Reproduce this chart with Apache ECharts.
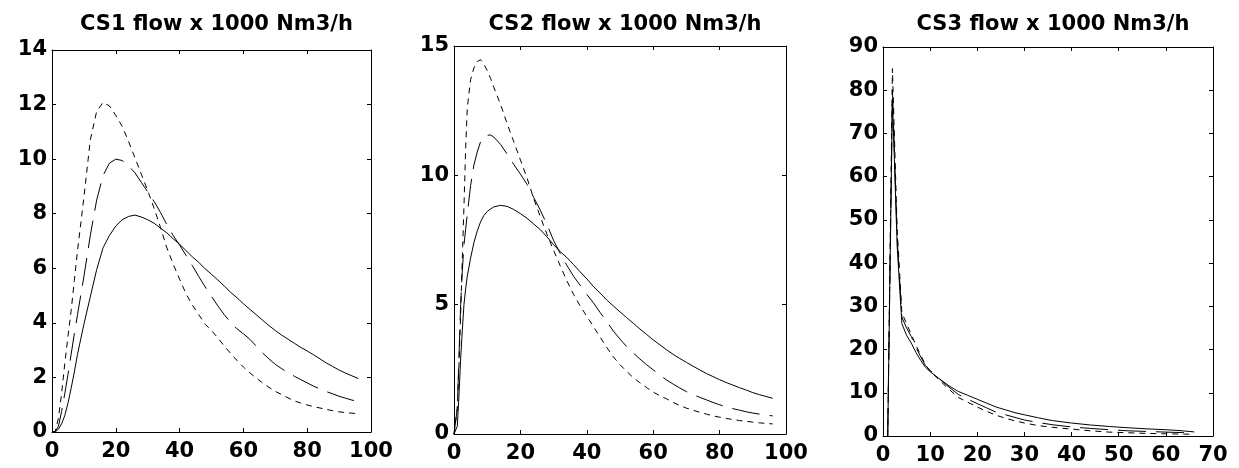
<!DOCTYPE html>
<html>
<head>
<meta charset="utf-8">
<script src="https://cdn.jsdelivr.net/npm/echarts@6/dist/echarts.min.js"></script>
<style>
  html, body { margin: 0; padding: 0; background: #fff; }
  #chart { width: 1239px; height: 468px; }
</style>
</head>
<body>
<div id="chart"></div>
<script>
// Panel titles
const titles = ['CS1 flow x 1000 Nm3/h', 'CS2 flow x 1000 Nm3/h', 'CS3 flow x 1000 Nm3/h'];

// ---- CS1 ----
const cs1Time = [0,1,2,3,4,5,6,7,8,10,12,14,16,18,20,22,24,26,28,30,32,34,36,38,40,42,44,46,48,50,52,54,56,58,60,62,64,66,68,70,72,74,76,78,80,82,84,86,88,90,92,94,96];
const cs1Solid = [0,0,0.1,0.3,0.6,1.05,1.6,2.2,2.85,3.95,4.95,5.95,6.75,7.2,7.55,7.78,7.9,7.95,7.88,7.78,7.65,7.47,7.3,7.08,6.88,6.65,6.42,6.22,5.98,5.78,5.57,5.35,5.12,4.92,4.7,4.5,4.3,4.1,3.9,3.72,3.55,3.4,3.25,3.1,2.97,2.83,2.68,2.53,2.4,2.27,2.16,2.06,1.96];
const cs1LongDash = [0,0.02,0.2,0.75,1.4,2.1,2.85,3.6,4.3,5.7,7.2,8.5,9.4,9.85,10.0,9.95,9.75,9.5,9.15,8.8,8.45,8.05,7.6,7.2,6.85,6.48,6.1,5.7,5.32,4.97,4.62,4.3,4.02,3.78,3.6,3.4,3.15,2.9,2.68,2.48,2.32,2.18,2.04,1.92,1.8,1.68,1.58,1.48,1.4,1.31,1.24,1.17,1.12];
const cs1ShortDash = [0,0.02,0.5,1.4,2.5,3.5,4.45,5.55,6.65,8.6,10.7,11.75,12.08,11.95,11.6,11.2,10.65,10.05,9.45,8.85,8.2,7.5,6.75,6.15,5.6,5.07,4.65,4.3,3.95,3.72,3.45,3.15,2.88,2.62,2.38,2.17,1.98,1.8,1.64,1.49,1.37,1.25,1.14,1.06,0.99,0.93,0.88,0.83,0.78,0.74,0.71,0.69,0.67];

// ---- CS2 ----
const cs2Time = [0,0.5,1,1.5,2,2.5,3,3.5,4,5,6,7,8,9,10,11,12,14,16,18,20,22,24,26,28,30,32,34,36,38,40,42,44,46,48,50,52,54,56,58,60,62,64,66,68,70,72,74,76,78,80,82,84,86,88,90,92,94,96];
const cs2Solid = [0,0,0.3,1.5,2.9,4.0,5.0,5.6,6.1,6.8,7.4,7.85,8.2,8.45,8.6,8.7,8.78,8.84,8.8,8.68,8.52,8.34,8.12,7.9,7.62,7.32,7.05,6.82,6.55,6.27,6.0,5.7,5.45,5.18,4.95,4.72,4.5,4.28,4.06,3.85,3.64,3.45,3.26,3.08,2.92,2.77,2.62,2.48,2.34,2.22,2.1,1.99,1.89,1.79,1.7,1.6,1.52,1.45,1.38];
const cs2LongDash = [0,0,1.0,3.0,5.0,6.3,7.3,7.9,8.5,9.6,10.4,10.9,11.3,11.45,11.55,11.56,11.48,11.2,10.82,10.42,10.05,9.65,9.15,8.65,8.1,7.48,6.98,6.52,6.1,5.75,5.4,5.07,4.7,4.35,3.98,3.67,3.38,3.13,2.9,2.68,2.48,2.28,2.09,1.93,1.78,1.64,1.52,1.42,1.32,1.22,1.13,1.05,0.98,0.92,0.86,0.81,0.77,0.73,0.70];
const cs2ShortDash = [0,0,1.0,2.7,4.6,6.8,8.8,11.0,12.6,13.7,14.15,14.4,14.47,14.3,14.05,13.75,13.4,12.75,12.0,11.3,10.6,9.9,9.1,8.4,7.72,7.1,6.5,5.92,5.4,4.95,4.55,4.15,3.75,3.35,2.98,2.68,2.42,2.18,1.98,1.8,1.62,1.48,1.36,1.22,1.1,1.0,0.92,0.84,0.77,0.7,0.65,0.6,0.56,0.52,0.49,0.46,0.43,0.41,0.39];

// ---- CS3 ----
const cs3Time = [1,2,3,4,5,6,7,8,9,10,12,14,16,18,20,22,24,26,28,30,33,36,40,44,48,52,56,60,63,66];
const cs3Solid = [0,78,44,26,23.3,21.5,19.3,17.5,15.9,14.9,13.2,11.6,10.3,9.4,8.5,7.6,6.7,6.05,5.4,4.9,4.2,3.55,3.0,2.55,2.2,1.9,1.65,1.45,1.25,0.95];
const cs3LongDash = [0,80,46,27.5,25,23,20.5,18.3,16.3,15.2,13.2,11.3,9.6,8.5,7.5,6.5,5.5,4.9,4.3,3.7,3.1,2.6,2.1,1.75,1.45,1.2,1.05,0.9,0.8,0.7];
const cs3ShortDash = [0,85,48,28.5,26,23.5,21,18.7,16.5,15.0,12.9,10.8,8.9,7.8,6.7,5.7,4.8,4.1,3.5,3.0,2.4,2.0,1.6,1.2,0.9,0.75,0.6,0.5,0.45,0.4];

// Axis ranges per panel
const xMax = [100, 100, 70];
const xStep = [20, 20, 10];
const yMax = [14, 15, 90];
const yStep = [2, 5, 10];

// Plot rectangles (pixels)
const grids = [
  { left: 52,  top: 50, width: 319, height: 382 },
  { left: 454, top: 46, width: 332, height: 388 },
  { left: 883, top: 47, width: 330, height: 389 }
];

const FONT = 'DejaVu Sans';
const ink = '#000';

const panels = [
  { t: cs1Time, ys: [cs1Solid, cs1LongDash, cs1ShortDash] },
  { t: cs2Time, ys: [cs2Solid, cs2LongDash, cs2ShortDash] },
  { t: cs3Time, ys: [cs3Solid, cs3LongDash, cs3ShortDash] }
];
const dashTypes = ['solid', [28, 10], [6, 5]];

const xAxes = [], yAxes = [], series = [], titleOpts = [];

function axisBase() {
  return {
    axisLine: { show: true, onZero: false, lineStyle: { color: ink, width: 1 } },
    axisTick: { show: true, inside: true, length: 4, lineStyle: { color: ink, width: 1 } },
    splitLine: { show: false },
    axisPointer: { show: false }
  };
}

grids.forEach((g, i) => {
  g.show = false;
  g.outerBoundsMode = 'none';
  g.containLabel = false;

  const labelStyle = {
    show: true, color: ink, fontFamily: FONT, fontWeight: 'bold', fontSize: 21,
    showMinLabel: true, showMaxLabel: true, hideOverlap: false
  };

  // bottom axis with labels, mirrored top axis with ticks only
  xAxes.push(Object.assign(axisBase(), {
    type: 'value', gridIndex: i, position: 'bottom', min: 0, max: xMax[i], interval: xStep[i],
    axisLabel: Object.assign({}, labelStyle, { margin: 9 })
  }));
  xAxes.push(Object.assign(axisBase(), {
    type: 'value', gridIndex: i, position: 'top', min: 0, max: xMax[i], interval: xStep[i],
    axisLabel: { show: false }
  }));
  // left axis with labels, mirrored right axis with ticks only
  yAxes.push(Object.assign(axisBase(), {
    type: 'value', gridIndex: i, position: 'left', min: 0, max: yMax[i], interval: yStep[i],
    axisLabel: Object.assign({}, labelStyle, { margin: 5 })
  }));
  yAxes.push(Object.assign(axisBase(), {
    type: 'value', gridIndex: i, position: 'right', min: 0, max: yMax[i], interval: yStep[i],
    axisLabel: { show: false }
  }));

  const p = panels[i];
  p.ys.forEach((ys, k) => {
    series.push({
      type: 'line',
      xAxisIndex: i * 2,
      yAxisIndex: i * 2,
      data: p.t.map((x, j) => [x, ys[j]]),
      showSymbol: false,
      symbol: 'none',
      smooth: false,
      silent: true,
      animation: false,
      lineStyle: { color: ink, width: 1, type: dashTypes[k] }
    });
  });

  titleOpts.push({
    text: titles[i],
    left: g.left + g.width / 2,
    top: 9,
    textAlign: 'center',
    textStyle: { color: ink, fontFamily: FONT, fontWeight: 'bold', fontSize: 21 }
  });
});

const chart = echarts.init(document.getElementById('chart'), null, { renderer: 'canvas' });
chart.setOption({
  animation: false,
  backgroundColor: '#fff',
  title: titleOpts,
  grid: grids,
  xAxis: xAxes,
  yAxis: yAxes,
  series: series
});
</script>
</body>
</html>
